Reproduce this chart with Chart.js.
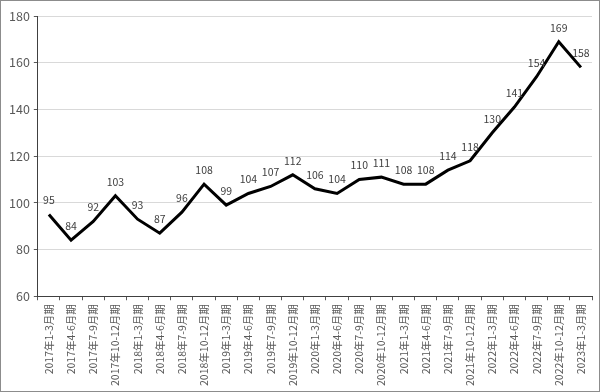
<!DOCTYPE html>
<html>
<head>
<meta charset="utf-8">
<script src="https://cdn.jsdelivr.net/npm/chart.js@4"></script>
<style>
  html, body { margin: 0; padding: 0; background: #fff; }
  #wrap { width: 600px; height: 392px; box-sizing: border-box; border: 1px solid #8c8c8c; position: relative; }
</style>
</head>
<body>
<div id="wrap"><canvas id="chart"></canvas></div>
<script>
const quarters = [
  '2017年1-3月期', '2017年4-6月期', '2017年7-9月期', '2017年10-12月期',
  '2018年1-3月期', '2018年4-6月期', '2018年7-9月期', '2018年10-12月期',
  '2019年1-3月期', '2019年4-6月期', '2019年7-9月期', '2019年10-12月期',
  '2020年1-3月期', '2020年4-6月期', '2020年7-9月期', '2020年10-12月期',
  '2021年1-3月期', '2021年4-6月期', '2021年7-9月期', '2021年10-12月期',
  '2022年1-3月期', '2022年4-6月期', '2022年7-9月期', '2022年10-12月期',
  '2023年1-3月期'
];
const values = [95, 84, 92, 103, 93, 87, 96, 108, 99, 104, 107, 112, 106, 104, 110, 111, 108, 108, 114, 118, 130, 141, 154, 169, 158];
const yTicks = [60, 80, 100, 120, 140, 160, 180];

const fontStack = '"Noto Sans CJK JP", "DejaVu Sans", sans-serif';

// 各点の上に値を表示
const valueLabels = {
  id: 'valueLabels',
  afterDatasetsDraw(chart) {
    const ctx = chart.ctx;
    const meta = chart.getDatasetMeta(0);
    ctx.save();
    ctx.font = '10.5px ' + fontStack;
    ctx.fillStyle = '#404040';
    ctx.textAlign = 'center';
    ctx.textBaseline = 'middle';
    meta.data.forEach((pt, i) => {
      ctx.fillText(String(values[i]), pt.x, pt.y - 14);
    });
    ctx.restore();
  }
};

new Chart(document.getElementById('chart'), {
  type: 'line',
  data: {
    labels: quarters,
    datasets: [{
      data: values,
      borderColor: '#000',
      borderWidth: 3,
      pointRadius: 0,
      tension: 0,
      fill: false
    }]
  },
  options: {
    responsive: true,
    maintainAspectRatio: false,
    animation: false,
    layout: { padding: { top: 15, right: 7, left: 4, bottom: 1 } },
    plugins: { legend: { display: false }, tooltip: { enabled: false } },
    scales: {
      x: {
        offset: true,
        grid: { offset: true, drawOnChartArea: false, tickLength: 4, color: '#595959' },
        border: { color: '#404040', width: 1 },
        ticks: {
          color: '#595959',
          font: { size: 10.5, family: fontStack },
          minRotation: 90,
          maxRotation: 90,
          autoSkip: false,
          padding: 4
        }
      },
      y: {
        min: 60,
        max: 180,
        afterBuildTicks: (axis) => { axis.ticks = yTicks.map(v => ({ value: v })); },
        grid: { color: '#d9d9d9', tickLength: 4, tickColor: '#595959' },
        border: { color: '#404040', width: 1 },
        ticks: {
          color: '#595959',
          font: { size: 12.5, family: fontStack },
          padding: 4
        }
      }
    }
  },
  plugins: [valueLabels]
});
</script>
</body>
</html>
